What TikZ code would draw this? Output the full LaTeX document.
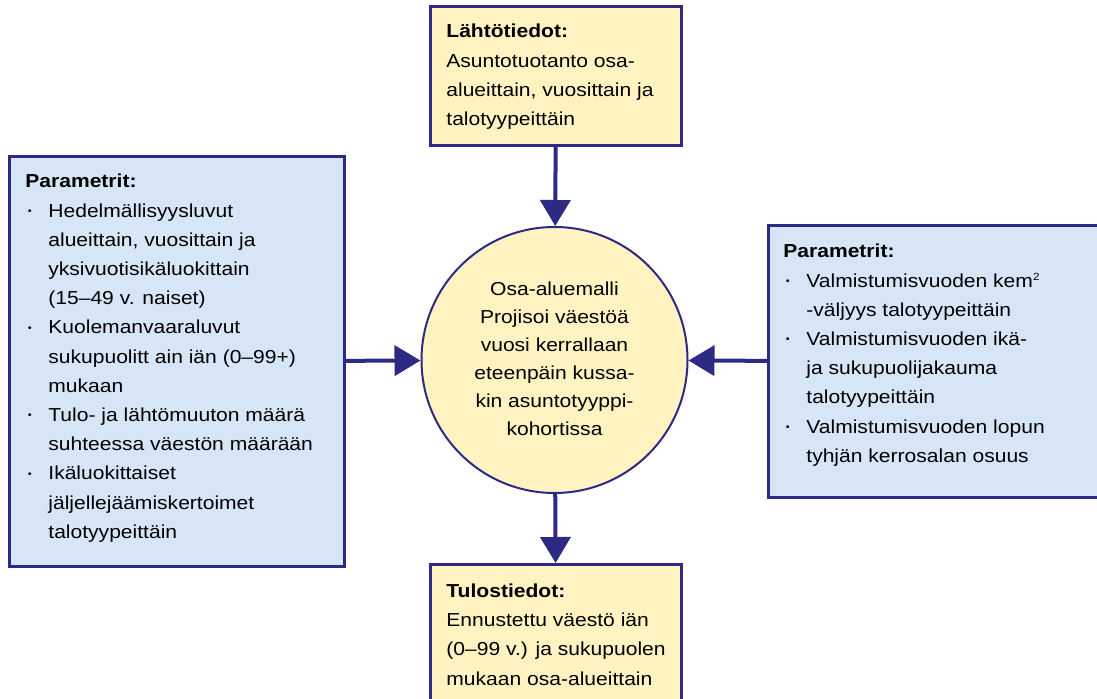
\documentclass[tikz,border=0pt]{standalone}
\usepackage{fontspec}
\setmainfont{Liberation Sans}[FakeStretch=1.12]
\usetikzlibrary{arrows.meta}
\usetikzlibrary{positioning}
\definecolor{darkblue}{HTML}{2E2A84}
\definecolor{lightyellow}{HTML}{FFF3C2}
\definecolor{lightblue}{HTML}{D6E6F7}
\newcommand{\BUL}{\makebox[11.5pt][l]{\hspace{1.2pt}\raisebox{1.3pt}{\fontsize{5}{5}\selectfont\textbullet}}}
\newcommand{\IND}{\hspace*{11.5pt}}
\newcommand{\SUP}[1]{\raisebox{3.2pt}{\fontsize{5.2}{5}\selectfont #1}}
\tikzset{
  inbox/.style={draw=darkblue, line width=1.5pt, fill=lightyellow, inner sep=0pt, anchor=north west},
  parbox/.style={inbox, fill=lightblue},
  boxtext/.style={inner sep=0pt, align=left, font=\fontsize{9.4}{14.6}\selectfont},
  flow/.style={darkblue, line width=2pt, -{Triangle[width=15pt,length=13pt]}}
}

\begin{document}
\begin{tikzpicture}[x=0.5pt,y=-0.5pt]
    \useasboundingbox (0,0) rectangle (1097,699);

    \coordinate (a) at (429,5);
    \coordinate (b) at (8,155);
    \coordinate (c) at (767,224);
    \coordinate (d) at (429,563);

    \node[inbox, minimum width=125.5pt, minimum height=69.5pt] (lahto) at (a) {};
    \node[parbox, minimum width=167.5pt, minimum height=205pt] (parl) at (b) {};
    \node[parbox, minimum width=167pt, minimum height=136pt] (parr) at (c) {};
    \node[inbox, minimum width=125.5pt, minimum height=72pt] (tulos) at (d) {};

    \node[circle, draw=darkblue, line width=1pt, fill=lightyellow, minimum size=133pt,
          inner sep=0pt, align=center, font=\fontsize{9.4}{14}\selectfont] (malli) at (554.5,360)
        {\strut Osa-aluemalli\\Projisoi väestöä\\vuosi kerrallaan\\eteenpäin kussa-\\kin asuntotyyppi-\\kohortissa\strut};

    % box texts
    \node[boxtext, below right=6pt and 8.5pt of lahto.north west]
        {\strut\textbf{Lähtötiedot:}\\Asuntotuotanto osa-\\alueittain, vuosittain ja\\talotyypeittäin};
    \node[boxtext, below right=6pt and 8.5pt of parl.north west]
        {\strut\textbf{Parametrit:}\\
         \BUL Hedelmällisyysluvut\\
         \IND alueittain, vuosittain ja\\
         \IND yksivuotisikäluokittain\\
         \IND (15–49 v. naiset)\\
         \BUL Kuolemanvaaraluvut\\
         \IND sukupuolitt ain iän (0–99+)\\
         \IND mukaan\\
         \BUL Tulo- ja lähtömuuton määrä\\
         \IND suhteessa väestön määrään\\
         \BUL Ikäluokittaiset\\
         \IND jäljellejäämiskertoimet\\
         \IND talotyypeittäin};
    \node[boxtext, below right=6.5pt and 8pt of parr.north west]
        {\strut\textbf{Parametrit:}\\
         \BUL Valmistumisvuoden kem\SUP{2}\\
         \IND -väljyys talotyypeittäin\\
         \BUL Valmistumisvuoden ikä-\\
         \IND ja sukupuolijakauma\\
         \IND talotyypeittäin\\
         \BUL Valmistumisvuoden lopun\\
         \IND tyhjän kerrosalan osuus};
    \node[boxtext, below right=6.8pt and 8.5pt of tulos.north west]
        {\strut\textbf{Tulostiedot:}\\Ennustettu väestö iän\\(0–99 v.) ja sukupuolen\\mukaan osa-alueittain};

    \draw[flow] (lahto) -- (malli);
    \draw[flow] (parl) -- (malli);
    \draw[flow] (parr) -- (malli);
    \draw[flow] (malli) -- (tulos);
\end{tikzpicture}
\end{document}
